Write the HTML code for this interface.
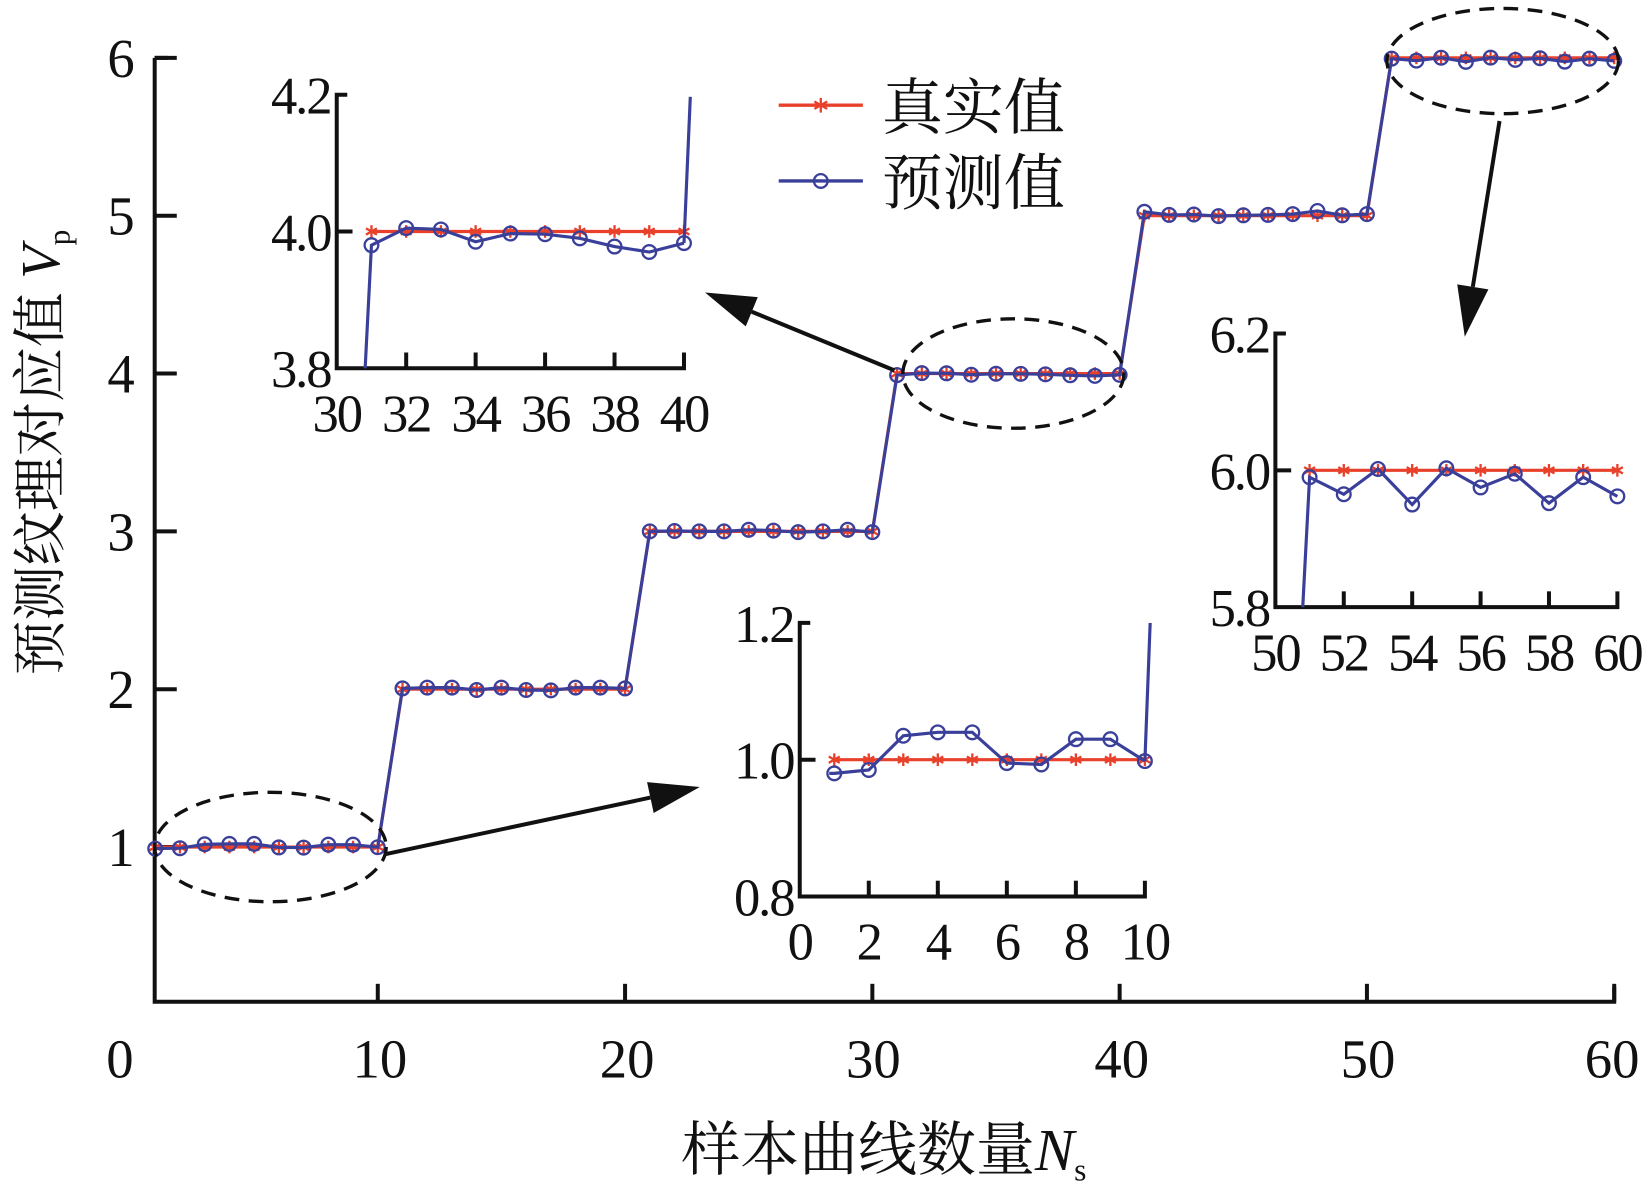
<!DOCTYPE html>
<html><head><meta charset="utf-8"><style>
html,body{margin:0;padding:0;background:#fff;}
svg{display:block}
text{font-family:"Liberation Serif","Noto Serif CJK SC",serif;fill:#111}
</style></head><body>
<svg id="s" width="1650" height="1189" viewBox="0 0 1568 1130" preserveAspectRatio="none" xmlns="http://www.w3.org/2000/svg">
</svg>
<script>
const s=document.getElementById('s');const NS='http://www.w3.org/2000/svg';
function el(t,a,txt){const e=document.createElementNS(NS,t);for(const k in a)e.setAttribute(k,a[k]);if(txt!==undefined)e.textContent=txt;s.appendChild(e);return e;}
function star(x,y,r){for(let i=0;i<3;i++){const a=i*Math.PI/3+Math.PI/2;el('line',{x1:x-r*Math.cos(a),y1:y-r*Math.sin(a),x2:x+r*Math.cos(a),y2:y+r*Math.sin(a),stroke:'#e8402a','stroke-width':2.2});}}
function circ(x,y){el('circle',{cx:x,cy:y,r:6.5,fill:'none',stroke:'#3a3f9a','stroke-width':2.2});}
function series(pts,color,mk){el('polyline',{points:pts.map(p=>p.join(',')).join(' '),fill:'none',stroke:color,'stroke-width':3});pts.forEach(p=>mk(p[0],p[1]));}
el('path',{d:'M147,55 H160 M147,55 V952 H1534 V938',fill:'none',stroke:'#111','stroke-width':3.8});
[1,2,3,4,5,6].forEach(v=>{const y=955-150*v;el('line',{x1:147,y1:y,x2:168,y2:y,stroke:'#111','stroke-width':3.8});el('text',{x:128,y:y+18,'font-size':52,'text-anchor':'end'},v);});
[10,20,30,40,50,60].forEach(n=>{const x=124+23.5*n;el('line',{x1:x,y1:952,x2:x,y2:935,stroke:'#111','stroke-width':3.8});});
[[0,114],[10,361],[20,596],[30,830],[40,1066],[50,1300],[60,1532]].forEach(a=>el('text',{x:a[1],y:1024,'font-size':52,'text-anchor':'middle'},a[0]));
const dev1=[-0.02,-0.015,0.035,0.04,0.04,-0.005,-0.007,0.03,0.03,-0.002];
const dev2=[0.01,0.02,0.02,-0.01,0.02,-0.01,-0.015,0.02,0.02,0.01];
const dev3=[0,0.005,0,0,0.02,0.01,-0.01,0,0.02,-0.01];
const dev4=[-0.02,0.005,0.003,-0.015,-0.003,-0.004,-0.01,-0.022,-0.03,-0.017];
const dev5=[0.05,0.01,0.015,-0.005,0.005,0.01,0.02,0.06,0.005,0.02,0.03];
const dev6=[-0.01,-0.035,0.002,-0.05,0.003,-0.025,-0.005,-0.048,-0.01,-0.038];
const devs=[dev1,dev2,dev3,dev4,dev5,dev6];
const tp=[],pp=[];
for(let n=1;n<=60;n++){const v=Math.ceil(n/10);const d=devs[v-1][(n-1)%10]*0.5;tp.push([124+23.5*n,955-150*v]);pp.push([124+23.5*n,955-150*(v+d)]);}
series(tp,'#e8402a',(x,y)=>star(x,y,6));
series(pp,'#3a3f9a',circ);
[[257,805,110,52],[963,355,105,52],[1428,58,110,50]].forEach(e=>el('ellipse',{cx:e[0],cy:e[1],rx:e[2],ry:e[3],fill:'none',stroke:'#111','stroke-width':3.2,'stroke-dasharray':'14,9'}));
function arrow(x1,y1,x2,y2){const dx=x2-x1,dy=y2-y1,L=Math.hypot(dx,dy),ux=dx/L,uy=dy/L,h=48,w=15;const bx=x2-ux*h,by=y2-uy*h;el('line',{x1,y1,x2:bx,y2:by,stroke:'#111','stroke-width':3.8});el('polygon',{points:`${x2},${y2} ${bx-uy*w},${by+ux*w} ${bx+uy*w},${by-ux*w}`,fill:'#111'});}
arrow(365,812,665,748);arrow(850,352,670,278);arrow(1425,115,1392,320);
function inset(x0,x1,yT,yM,yB,vals,v0,labels,ylabs,startFrom){
 const sx=(x1-x0)/10;
 el('path',{d:`M${x0+10},${yT} H${x0} V${yB} H${x1} V${yB-15}`,fill:'none',stroke:'#111','stroke-width':3.8});
 for(let k=1;k<=4;k++){const x=x0+sx*2*k;el('line',{x1:x,y1:yB,x2:x,y2:yB-15,stroke:'#111','stroke-width':3.8});}
 el('line',{x1:x0,y1:yM,x2:x0+15,y2:yM,stroke:'#111','stroke-width':3.8});
 ylabs.forEach((t,i)=>el('text',{x:x0-6,y:[yT,yM,yB][i]+18,'font-size':50,'text-anchor':'end','letter-spacing':-2},t));
 labels.forEach((t,k)=>el('text',{x:x0+sx*2*k,y:yB+60,'font-size':50,'text-anchor':'middle','letter-spacing':-2},t));
 const sy=(yB-yM)/0.2;
 const T=[],P=[[startFrom[0],startFrom[1]]];
 for(let i=1;i<=10;i++){const x=x0+sx*i;T.push([x,yM]);P.push([x,yM-sy*(vals[i-1]-v0)]);}
 series(T,'#e8402a',(x,y)=>star(x,y,6));
 el('polyline',{points:P.map(p=>p.join(',')).join(' '),fill:'none',stroke:'#3a3f9a','stroke-width':3});
 P.slice(1).forEach(p=>circ(p[0],p[1]));
 return P[P.length-1];
}
let l=inset(760,1088,592,722,852,[0.98,0.985,1.035,1.04,1.04,0.995,0.993,1.03,1.03,0.998],1.0,['0','2','4','6','8','10'],['1.2','1.0','0.8'],[788,735]);
el('line',{x1:l[0],y1:l[1],x2:1093,y2:592,stroke:'#3a3f9a','stroke-width':3});
l=inset(320,650,90,220,350,[3.98,4.005,4.003,3.985,3.997,3.996,3.99,3.978,3.97,3.983],4.0,['30','32','34','36','38','40'],['4.2','4.0','3.8'],[347,350]);
el('line',{x1:l[0],y1:l[1],x2:656,y2:92,stroke:'#3a3f9a','stroke-width':3});
inset(1212,1537,317,447,577,[5.99,5.965,6.002,5.95,6.003,5.975,5.995,5.952,5.99,5.962],6.0,['50','52','54','56','58','60'],['6.2','6.0','5.8'],[1238,577]);
el('line',{x1:740,y1:100,x2:820,y2:100,stroke:'#e8402a','stroke-width':3.2});star(780,100,7);
el('text',{x:838,y:122,'font-size':58},'真实值');
el('line',{x1:740,y1:172,x2:820,y2:172,stroke:'#3a3f9a','stroke-width':3.2});circ(780,172);
el('text',{x:838,y:194,'font-size':58},'预测值');
const yt=el('text',{transform:'translate(56,430) rotate(-90)','font-size':52,'text-anchor':'middle'});
yt.innerHTML='预测纹理对应值 <tspan font-style="italic">V</tspan><tspan font-size="30" dy="10">p</tspan>';
const xt=el('text',{x:840,y:1112,'font-size':56,'text-anchor':'middle'});
xt.innerHTML='样本曲线数量<tspan font-style="italic">N</tspan><tspan font-size="30" dy="10">s</tspan>';
</script>
</body></html>
